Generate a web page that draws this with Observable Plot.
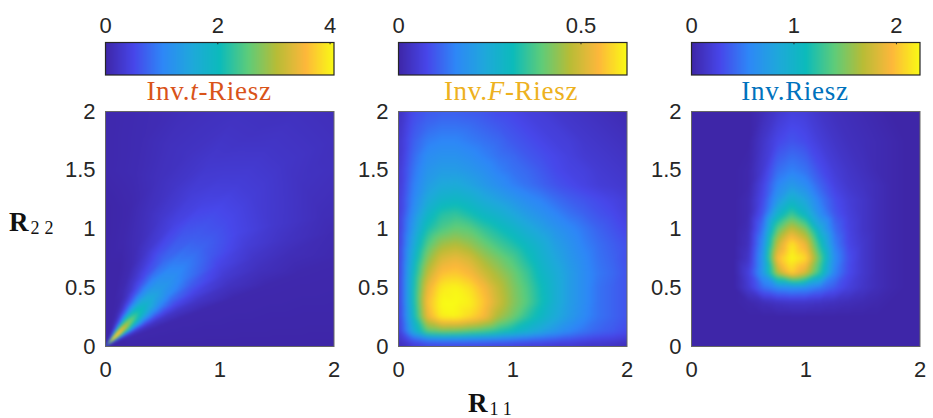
<!DOCTYPE html>
<html><head><meta charset="utf-8">
<script src="https://cdn.jsdelivr.net/npm/d3@7"></script>
<script src="https://cdn.jsdelivr.net/npm/@observablehq/plot@0.6"></script>
<style>
html,body{margin:0;padding:0;background:#fff}
#fig{position:relative;width:933px;height:418px;overflow:hidden}
#fig svg{position:absolute;overflow:visible}
.t{position:absolute;font-family:"Liberation Serif",serif;white-space:nowrap;line-height:1}
.title{font-size:27px;letter-spacing:.7px;transform:translateX(-50%);top:78px}
.lab{font-size:27px;font-weight:bold;color:#111}
.lab sub{font-size:18px;font-weight:normal;letter-spacing:5px;vertical-align:-3px;line-height:0;margin-left:2px}
</style></head><body><div id="fig"></div>
<script>
// Colour stops of the colour bars
const colorStops = ["#3e26a8","#4747ea","#2e87f7","#1fa8dc","#0cbbbb","#5ecc7a","#b8bc36","#fdb73b","#f9fb15"];
const axisTicks = [0, 0.5, 1, 1.5, 2];
const xTicks = [0, 1, 2];

// Inv.t-Riesz: level as % of colour bar top, read along rays from the origin
const tMax = 4.07, tBarTicks = [0, 2, 4];
const tAngles = [0,20,26,30,35,40,45,50,55,60,66,72,80,90];
const tRadii = [.03,.06,.1,.15,.2,.3,.4,.5,.6,.7,.9,1.2,1.5,1.8,2.2,2.9];
const tLevels = [
[0,0,1,5,20,45,70,45,20,5,1,0,0,0],
[0,0,2,10,40,72,92,72,40,10,2,0,0,0],
[0,0,3,14,48,82,100,82,48,14,3,0,0,0],
[0,0,4,16,50,82,96,82,50,18,4,0,0,0],
[0,1,5,16,46,74,86,75,48,18,5,1,0,0],
[0,1,6,16,38,58,68,60,40,18,6,1,0,0],
[0,1,6,15,30,46,54,48,32,17,6,1,0,0],
[0,1,6,14,26,38,44,40,28,16,6,2,0,0],
[0,1,6,13,23,32,37,34,25,15,7,2,0,0],
[0,1,6,12,20,28,32,30,23,14,7,2,0,0],
[0,1,6,11,17,23,26,24,19,14,7,3,1,0],
[0,1,5,8,12,16,18,17,15,11,7,4,1,0],
[0,1,4,6,9,12,13,13,11,9,6,4,2,1],
[0,1,3,5,7,8,9,9,8,7,5,4,2,1],
[0,1,2,3,4,5,6,6,5,5,4,3,2,1],
[0,1,2,2,3,3,3,3,3,2,2,2,1,0]];

// Inv.F-Riesz
const fMax = 0.626, fBarTicks = [0, 0.5];
const fX = [0,.125,.25,.375,.5,.625,.75,.875,1,1.125,1.25,1.375,1.5,1.625,1.75,1.875,2];
const fY = [2,1.875,1.75,1.625,1.5,1.375,1.25,1.125,1,.875,.75,.625,.5,.375,.25,.125,.0625,0];
const fLevels = [
[4,13,16,17,17,16,15,13,12,10,9,7,6,5,4,3,2],
[5,15,19,21,21,20,18,16,14,12,10,9,7,6,5,4,3],
[6,17,23,25,25,23,21,19,16,14,12,10,9,7,6,5,4],
[6,19,27,29,29,27,24,21,19,16,14,12,10,8,7,6,5],
[7,21,30,33,33,31,28,24,21,19,16,13,11,10,8,7,6],
[7,23,33,38,39,36,32,28,24,21,18,15,13,11,9,8,7],
[8,25,38,45,47,44,39,35,31,27,24,20,17,15,13,11,9],
[8,28,45,54,56,52,47,43,38,33,29,25,21,18,15,13,10],
[8,32,52,60,64,62,56,51,46,40,35,30,26,22,18,15,12],
[8,37,60,71,74,70,64,58,53,47,41,34,29,24,20,17,14],
[8,42,68,81,84,80,72,66,60,52,44,37,31,26,21,18,14],
[8,46,76,89,91,87,79,72,65,57,47,40,33,27,22,19,15],
[8,48,84,97,99,95,87,77,68,60,50,41,33,27,21,18,15],
[8,48,88,100,100,98,90,79,69,61,51,41,33,27,21,18,15],
[8,45,84,98,99,94,87,73,65,55,47,39,32,26,21,18,15],
[7,38,62,65,64,61,58,53,48,42,36,30,25,21,18,16,13],
[6,18,26,28,28,27,26,25,23,21,19,17,15,13,11,10,8],
[3,7,9,9,9,9,9,8,8,7,7,6,6,5,5,4,3]];

// Inv.Riesz
const rMax = 2.23, rBarTicks = [0, 1, 2];
const rX = [0,.125,.25,.375,.5,.625,.75,.875,1,1.125,1.25,1.375,1.5,1.625,1.75,1.875,2];
const rY = [2,1.75,1.5,1.375,1.25,1.125,1,.875,.75,.625,.5,.375,.25,0];
const rLevels = [
[0,0,0,0,0,3,7,10,9,6,4,3,2,1,0,0,0],
[0,0,0,0,0,6,12,15,13,9,6,4,3,2,1,0,0],
[0,0,0,0,1,8,20,24,21,14,9,6,4,2,1,0,0],
[0,0,0,0,1,11,25,32,27,18,11,7,5,3,1,0,0],
[0,0,0,0,2,13,31,44,36,23,14,9,6,3,1,0,0],
[0,0,0,0,2,16,44,58,46,28,16,10,6,3,1,0,0],
[0,0,0,0,3,22,62,78,67,40,20,11,6,3,1,0,0],
[0,0,0,0,4,28,77,96,84,52,24,12,7,3,1,0,0],
[0,0,0,0,6,32,88,100,94,62,28,14,7,3,1,0,0],
[0,0,0,0,10,32,74,92,80,55,25,13,7,3,1,0,0],
[0,0,0,0,8,20,26,28,27,22,16,10,6,3,1,0,0],
[0,0,0,0,1,3,5,6,6,5,4,3,2,1,0,0,0],
[0,0,0,0,0,0,0,0,0,0,0,0,0,0,0,0,0],
[0,0,0,0,0,0,0,0,0,0,0,0,0,0,0,0,0]];

const parula = d3.piecewise(d3.interpolateRgb, colorStops);
const fig = document.getElementById("fig");
const FONT = {fontFamily:'"Liberation Sans",sans-serif', background:"transparent", color:"#262626"};
const FS = 22;
const L = 50, R = 13, W = 228.5;

function gridRows(xs, ys, levels, vmax){
  const rows = [];
  ys.forEach((y,j) => xs.forEach((x,i) => rows.push({x, y, v: levels[j][i] / 100 * vmax})));
  return rows;
}
function rayRows(angles, radii, levels, vmax){
  const rows = [{x:0, y:0, v:0}];
  radii.forEach((r,j) => angles.forEach((a,i) => rows.push({
    x: r * Math.cos(a * Math.PI / 180), y: r * Math.sin(a * Math.PI / 180), v: levels[j][i] / 100 * vmax})));
  return rows;
}
function place(svg, left, top){ svg.style.left = left + "px"; svg.style.top = top + "px"; fig.appendChild(svg); }

function panel(left, rows, vmax, barTicks, blur, colour, titleX, titleHtml){
  const map = Plot.plot({
    width: L + W + R, height: 15 + 235 + 45, marginLeft: L, marginRight: R, marginTop: 15, marginBottom: 45,
    style: FONT,
    x: {domain:[0,2]}, y: {domain:[0,2]},
    color: {domain:[0,vmax], interpolate: parula},
    marks: [
      Plot.raster(rows, {x:"x", y:"y", fill:"v", interpolate:"barycentric", x1:0, x2:2, y1:0, y2:2, pixelSize:1, blur}),
      Plot.frame({stroke:"#666", strokeWidth:1}),
      Plot.axisX(xTicks, {tickSize:0, tickPadding:15, fontSize:FS, label:null, tickFormat:d=>String(d), fill:"#262626"}),
      Plot.axisY(axisTicks, {tickSize:0, tickPadding:10, fontSize:FS, label:null, tickFormat:d=>String(d), fill:"#262626"})
    ]
  });
  place(map, left - L, 111 - 15);

  const bar = Plot.plot({
    width: L + W + R, height: 40 + 32.5 + 2, marginLeft: L, marginRight: R, marginTop: 40, marginBottom: 2,
    style: FONT,
    x: {domain:[0,vmax]}, y: {domain:[0,1], axis:null},
    color: {domain:[0,vmax], interpolate: parula},
    marks: [
      Plot.raster({x1:0, x2:vmax, y1:0, y2:1, width:256, height:1, fill:(x,y)=>x}),
      Plot.ruleX(barTicks.filter(d=>d>0), {y1:0.93, y2:1, stroke:"#262626", strokeWidth:1}),
      Plot.frame({stroke:"#262626", strokeWidth:1.2}),
      Plot.axisX(barTicks, {anchor:"top", tickSize:0, tickPadding:10, fontSize:FS, label:null, tickFormat:d=>String(d), fill:"#262626"})
    ]
  });
  place(bar, left - L, 42 - 40);

  const t = document.createElement("div");
  t.className = "t title"; t.style.left = titleX + "px"; t.style.color = colour; t.innerHTML = titleHtml;
  fig.appendChild(t);
}

panel(105, rayRows(tAngles, tRadii, tLevels, tMax), tMax, tBarTicks, 1, "#d95319", 209, "Inv.<i>t</i>-Riesz");
panel(398.3, gridRows(fX, fY, fLevels, fMax), fMax, fBarTicks, 2, "#edb120", 511, "Inv.<i>F</i>-Riesz");
panel(691, gridRows(rX, rY, rLevels, rMax), rMax, rBarTicks, 1.5, "#0072bd", 795, "Inv.Riesz");

const ly = document.createElement("div"); ly.className="t lab"; ly.style.left="9px"; ly.style.top="209px"; ly.innerHTML="R<sub>22</sub>"; fig.appendChild(ly);
const lx = document.createElement("div"); lx.className="t lab"; lx.style.left="468px"; lx.style.top="390px"; lx.innerHTML="R<sub>11</sub>"; fig.appendChild(lx);
</script></body></html>
